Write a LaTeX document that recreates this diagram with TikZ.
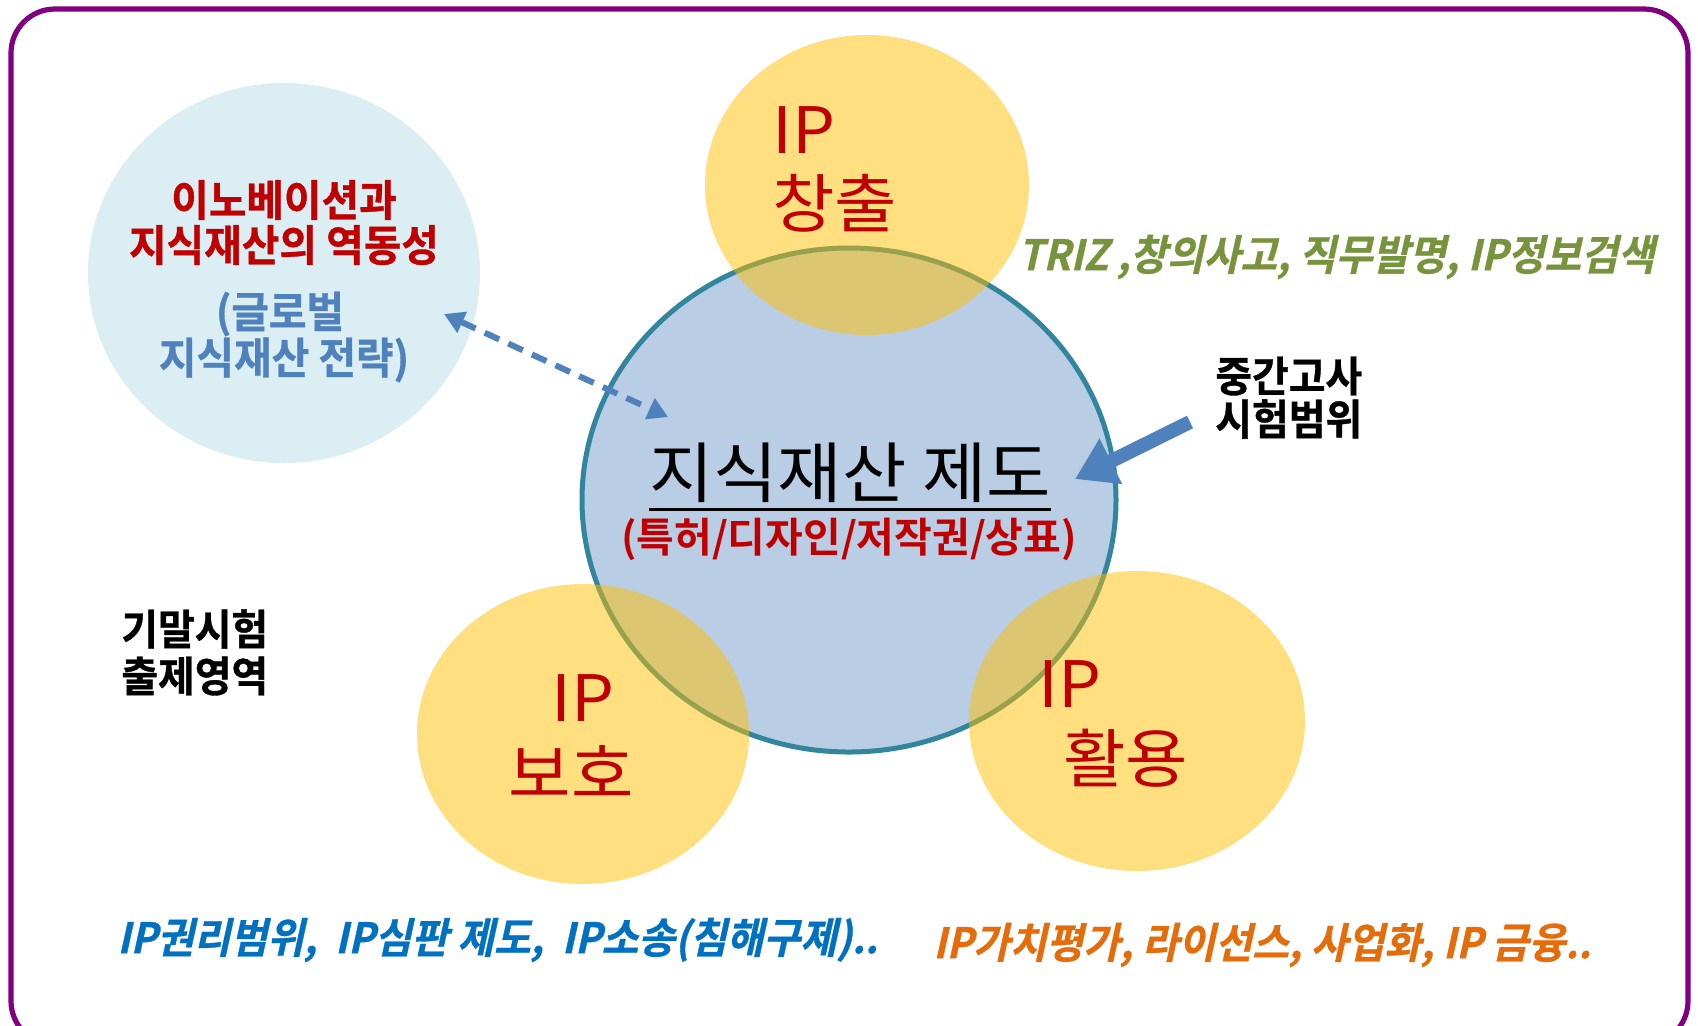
\documentclass[tikz,border=0pt]{standalone}
\usepackage{fontspec}
\usetikzlibrary{shapes.geometric,arrows.meta}
\newfontfamily\krw{Noto Sans CJK KR}[FakeStretch=1.06]
\newfontfamily\krb{Noto Sans CJK KR Bold}
\newfontfamily\hy{Noto Sans CJK KR Bold}[FakeStretch=0.95, FakeBold=0.8]
\newfontfamily\hyi{Noto Sans CJK KR Bold}[FakeStretch=0.95, FakeBold=0.8, FakeSlant=0.22]
\newcommand\myul[1]{\setbox0\hbox{#1}\rlap{\rule[-0.2em]{\wd0}{1.4pt}}\box0}
\definecolor{framepurple}{HTML}{800080}
\definecolor{lcfill}{HTML}{DAEEF3}
\definecolor{mcfill}{HTML}{B9CDE5}
\definecolor{mcline}{HTML}{31859C}
\definecolor{ipyellow}{HTML}{FFC000}
\definecolor{ipred}{HTML}{C00000}
\definecolor{arrowblue}{HTML}{4F81BD}
\definecolor{trizgreen}{HTML}{77933C}
\definecolor{protblue}{HTML}{0070C0}
\definecolor{useorange}{HTML}{E46C0A}
\begin{document}
\begin{tikzpicture}[x=0.5pt,y=-0.5pt,
  bubble/.style={ellipse, inner sep=0pt, outer sep=0pt},
  yel/.style={bubble, fill=ipyellow, fill opacity=0.5},
  bigred/.style={text=ipred, inner sep=0pt, font=\krw\fontsize{32pt}{36pt}\selectfont},
  headred/.style={text=ipred, inner sep=0pt, font=\hy\fontsize{21.5pt}{25pt}\selectfont},
  headblue/.style={text=arrowblue, inner sep=0pt, font=\hy\fontsize{21.5pt}{25pt}\selectfont},
  blacklbl/.style={text=black, inner sep=0pt, anchor=west, font=\hy\fontsize{21pt}{25pt}\selectfont},
  slantlbl/.style={inner sep=0pt, anchor=west, font=\hyi\fontsize{21pt}{25pt}\selectfont},
  dasharrow/.style={draw=arrowblue, line width=3pt, dash pattern=on 8pt off 5pt,
    {Triangle[length=10pt,width=11pt]}-{Triangle[length=10pt,width=11pt]}},
  fatarrow/.style={draw=arrowblue, line width=7pt, -{Triangle[length=20pt,width=24pt]}}
]
\useasboundingbox (0,0) rectangle (1698,1025);
\clip (0,0) rectangle (1698,1025);
\draw[framepurple, line width=2.6pt, rounded corners=22pt] (11,9) rectangle (1688,1045);

% circles
\node[bubble, fill=lcfill, minimum width=196pt, minimum height=190pt] (lc) at (284,273) {};
\node[bubble, fill=mcfill, draw=mcline, line width=2.5pt, minimum width=267pt, minimum height=252pt] (mc) at (849,500) {};
\node[yel, minimum width=162pt, minimum height=150pt] (yt) at (867,185) {};
\node[yel, minimum width=166pt, minimum height=150pt] (yb) at (583,734) {};
\node[yel, minimum width=168pt, minimum height=150pt] (yr) at (1137,721) {};

% arrows
\coordinate (da) at (444,314);
\coordinate (db) at (668,417);
\draw[dasharrow] (da) -- (db);
\coordinate (ta) at (1190,422);
\coordinate (tb) at (1075,479);
\draw[fatarrow] (ta) -- (tb);

% yellow circle texts
\node[bigred, anchor=west] (ip1) at (772,130) {IP};
\node[bigred, anchor=west] (cc) at (772,203) {창출};
\node[bigred] (ip2) at (583,698) {IP};
\node[bigred] (bh) at (571,771) {보호};
\node[bigred, anchor=west] (ip3) at (1038,684) {IP};
\node[bigred, anchor=west] (hy) at (1063,758) {활용};

% main circle texts
\node[inner sep=0pt, font=\krw\fontsize{33pt}{37pt}\selectfont] (title) at (850,477) {\myul{지식재산 제도}};
\node[inner sep=0pt, text=ipred, font=\krb\fontsize{20.5pt}{24pt}\selectfont] (sub) at (849,539) {(특허/디자인/저작권/상표)};

% left circle texts
\node[headred] (l1) at (284,200) {이노베이션과};
\node[headred] (l2) at (284,245) {지식재산의 역동성};
\node[headblue] (l3) at (280,314) {(글로벌};
\node[headblue] (l4) at (284,360) {지식재산 전략)};

% side labels
\node[slantlbl, text=trizgreen] (triz) at (1018,257) {TRIZ ,창의사고, 직무발명, IP정보검색};
\node[blacklbl] (mid1) at (1215,376) {중간고사};
\node[blacklbl] (mid2) at (1215,419) {시험범위};
\node[blacklbl] (fin1) at (121,629) {기말시험};
\node[blacklbl] (fin2) at (121,676) {출제영역};
\node[slantlbl, text=protblue] (prot) at (117,940) {IP권리범위,\ \ IP심판 제도,\ \ IP소송(침해구제)..};
\node[slantlbl, text=useorange] (use) at (933,945) {IP가치평가, 라이선스, 사업화, IP 금융..};
\end{tikzpicture}
\end{document}
